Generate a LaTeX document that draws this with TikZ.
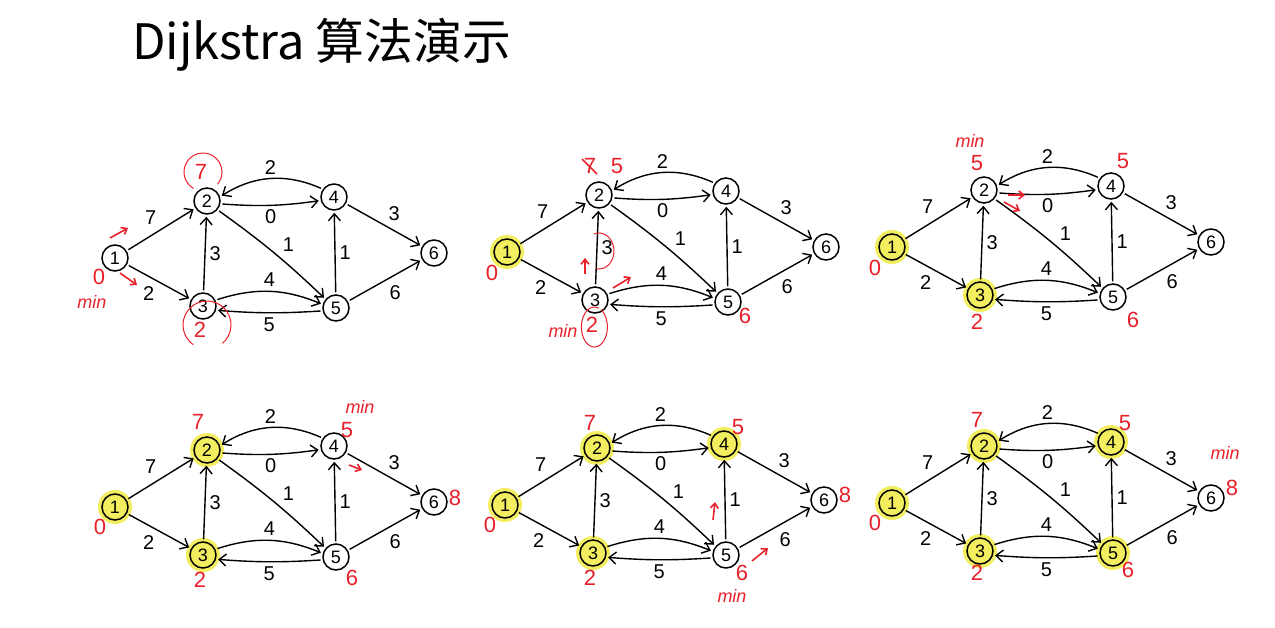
\documentclass[tikz,border=0pt]{standalone}
\usepackage{fontspec}
\setmainfont{Liberation Sans}
\newfontfamily\cjkfont{Noto Sans CJK SC}
\usetikzlibrary{arrows.meta,backgrounds}

\definecolor{penred}{RGB}{232,32,42}
\definecolor{marker}{RGB}{242,238,96}

\tikzset{
    vertex/.style={circle,draw,line width=0.75pt,inner sep=0pt,minimum size=13pt,
        font=\fontsize{9}{9}\selectfont},
    edge/.style={line width=0.7pt,shorten >=1pt,shorten <=1pt,
        -{Straight Barb[length=3.5pt,width=6pt]}},
    weight/.style={font=\fontsize{10}{10}\selectfont,inner sep=2pt},
    note/.style={text=penred,font=\fontsize{11}{11}\selectfont,inner sep=0pt},
    minnote/.style={text=penred,font=\fontsize{9}{9}\selectfont\itshape,inner sep=0pt},
    redpen/.style={penred,line width=0.5pt},
    redarrow/.style={penred,line width=0.8pt,-{Straight Barb[length=2.5pt,width=4pt]}},
}

\begin{document}
\begin{tikzpicture}[x=0.5pt,y=0.5pt]
    \useasboundingbox (0,0) rectangle (1275,-627);

    \node [anchor=west,inner sep=0pt,font=\cjkfont\fontsize{24.4}{24.4}\selectfont]
        (title) at (132,-45) {Dijkstra 算法演示};

    % the same graph, six times
    \foreach \g/\ox/\oy in {a/115/-258,b/507/-252,c/892/-247,
                            d/115/-507,e/505/-505,f/892/-503} {
        \begin{scope}[shift={(\ox,\oy)}]
            \node [vertex] (\g-1) at (0,0) {1};
            \node [vertex] (\g-2) at (92,57) {2};
            \node [vertex] (\g-3) at (88,-48) {3};
            \node [vertex] (\g-4) at (219,61) {4};
            \node [vertex] (\g-5) at (221,-50) {5};
            \node [vertex] (\g-6) at (319,5) {6};

            \draw [edge] (\g-1) -- node [weight,above left] {7} (\g-2);
            \draw [edge] (\g-1) -- node [weight,below left] {2} (\g-3);
            \draw [edge] (\g-3) -- node [weight,right] {3} (\g-2);
            \draw [edge] (\g-2.-12) to[bend right=6]
                node [weight,below] {0} (\g-4.195);
            \draw [edge] (\g-4.145) to[bend right=28]
                node [weight,above] {2} (\g-2.18);
            \draw [edge] (\g-2.-40) to[bend left=4]
                node [weight,above right,pos=0.55] {1} (\g-5.140);
            \draw [edge] (\g-3.25) to[bend left=20]
                node [weight,above] {4} (\g-5.165);
            \draw [edge] (\g-5.192) to[bend left=4]
                node [weight,below] {5} (\g-3.-18);
            \draw [edge] (\g-5) -- node [weight,right] {1} (\g-4);
            \draw [edge] (\g-4) -- node [weight,above right] {3} (\g-6);
            \draw [edge] (\g-5) -- node [weight,below right] {6} (\g-6);
        \end{scope}
    }

    % visited vertices
    \begin{scope}[on background layer]
        \foreach \v in {b-1,c-1,c-3,d-1,d-2,d-3,e-1,e-2,e-3,e-4,
                        f-1,f-2,f-3,f-4,f-5}
            \fill [marker] (\v) circle (8.5pt);
    \end{scope}

    % step 1
    \node [note] (a-d1) at (99,-277) {0};
    \node [minnote] (a-m) at (92,-302) {min};
    \node [note] (a-d2) at (201,-172) {7};
    \node [note] (a-d3) at (200,-330) {2};
    \draw [redpen] (203,-172) ++(240:9.5pt) arc[start angle=240,end angle=-40,radius=9.5pt];
    \draw [redpen] (207,-325) ++(235:12pt) arc[start angle=235,end angle=-50,radius=12pt];
    \draw [redarrow] (110,-238) -- (128,-228);
    \draw [redarrow] (120,-273) -- (137,-285);

    % step 2
    \node [note] (b-d1) at (492,-273) {0};
    \node [note] (b-d2) at (590,-166) {7};
    \draw [redpen,line width=0.8pt] (582,-159) -- (597,-174);
    \node [note] (b-d2n) at (617,-166) {5};
    \node [note] (b-d3) at (592,-325) {2};
    \node [minnote] (b-m) at (563,-331) {min};
    \node [note] (b-d5) at (745,-316) {6};
    \draw [redpen] (600,-251) ++(110:9pt)
        arc[start angle=110,end angle=-100,x radius=7.5pt,y radius=9pt];
    \draw [redpen] (592,-327) ++(70:10pt)
        arc[start angle=70,end angle=420,x radius=6.5pt,y radius=10pt];
    \draw [redarrow] (585,-274) -- (585,-258);
    \draw [redarrow] (613,-288) -- (631,-277);

    % step 3
    \node [minnote] (c-m) at (970,-141) {min};
    \node [note] (c-d2) at (977,-163) {5};
    \node [note] (c-d4) at (1123,-161) {5};
    \node [note] (c-d1) at (875,-268) {0};
    \node [note] (c-d3) at (977,-322) {2};
    \node [note] (c-d5) at (1133,-320) {6};
    \draw [redarrow] (1008,-195) -- (1025,-195);
    \draw [redarrow] (1004,-202) -- (1020,-211);

    % step 4
    \node [minnote] (d-m) at (360,-407) {min};
    \node [note] (d-d2) at (198,-422) {7};
    \node [note] (d-d4) at (347,-430) {5};
    \node [note] (d-d6) at (455,-498) {8};
    \node [note] (d-d1) at (100,-527) {0};
    \node [note] (d-d3) at (200,-580) {2};
    \node [note] (d-d5) at (352,-578) {6};
    \draw [redarrow] (349,-465) -- (362,-470);

    % step 5
    \node [note] (e-d2) at (590,-423) {7};
    \node [note] (e-d4) at (738,-427) {5};
    \node [note] (e-d6) at (845,-495) {8};
    \node [note] (e-d1) at (490,-525) {0};
    \node [note] (e-d3) at (590,-578) {2};
    \node [note] (e-d5) at (742,-573) {6};
    \node [minnote] (e-m) at (732,-596) {min};
    \draw [redarrow] (713,-520) -- (715,-502);
    \draw [redarrow] (752,-561) -- (768,-548);

    % step 6
    \node [note] (f-d2) at (977,-420) {7};
    \node [note] (f-d4) at (1125,-423) {5};
    \node [minnote] (f-m) at (1225,-453) {min};
    \node [note] (f-d6) at (1232,-488) {8};
    \node [note] (f-d1) at (875,-523) {0};
    \node [note] (f-d3) at (977,-573) {2};
    \node [note] (f-d5) at (1128,-570) {6};
\end{tikzpicture}
\end{document}
